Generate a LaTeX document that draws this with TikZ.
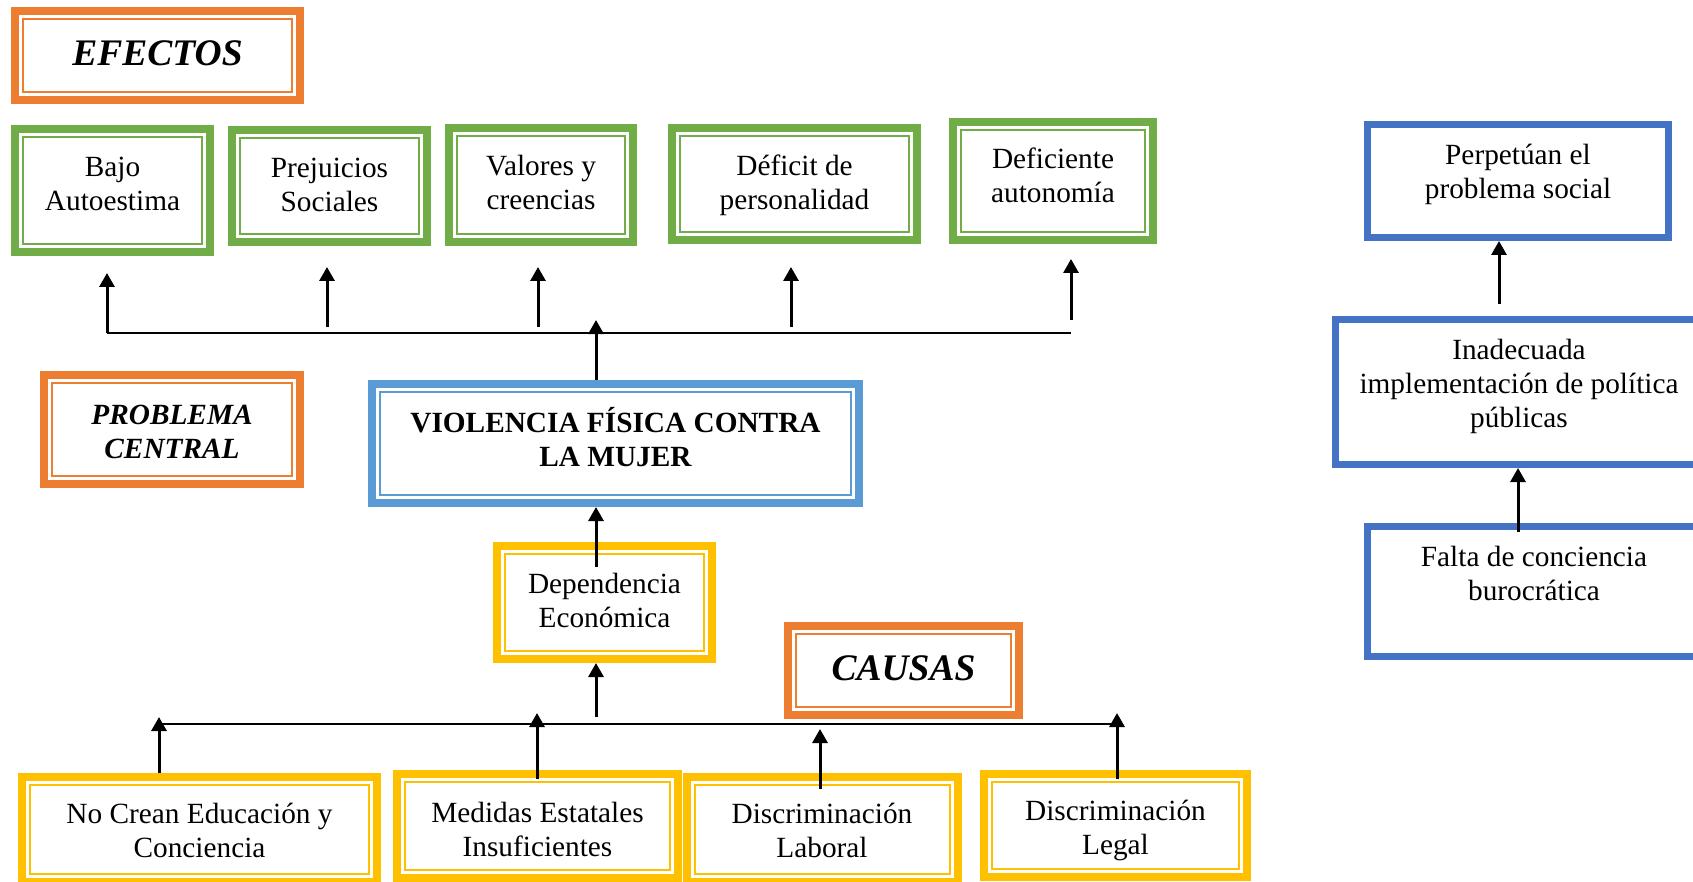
\documentclass[tikz,border=0pt]{standalone}
\usepackage{fontspec}
\setmainfont{Liberation Serif}
\usetikzlibrary{arrows.meta}
\definecolor{cOr}{HTML}{ED7D31}
\definecolor{cGr}{HTML}{70AD47}
\definecolor{cBl}{HTML}{5B9BD5}
\definecolor{cYe}{HTML}{FFC000}
\definecolor{cBd}{HTML}{4472C4}
\newcommand{\mybox}[6]{%
  \node[draw=#6, line width=8pt, outer sep=4pt, inner sep=0pt,
        minimum width={(#4-#2-8)*1pt}, minimum height={(#5-#3-8)*1pt}]
        (#1) at ({(#2+#4)/2},{(#3+#5)/2}) {};
  \draw[#6, line width=2pt] ([shift={(11.7pt,-11.7pt)}]#1.north west)
        rectangle ([shift={(-11.7pt,11.7pt)}]#1.south east);
}
\newcommand{\myplainbox}[6]{%
  \node[draw=#6, line width=7pt, outer sep=3.5pt, inner sep=0pt,
        minimum width={(#4-#2-7)*1pt}, minimum height={(#5-#3-7)*1pt}]
        (#1) at ({(#2+#4)/2},{(#3+#5)/2}) {};
}
\begin{document}
\begin{tikzpicture}[x=1pt,y=-1pt,
  txt/.style={font=\fontsize{29.3}{34}\selectfont, align=center, inner sep=0pt, yshift=-1.5pt},
  hd/.style={font=\fontsize{37.5}{42}\selectfont\bfseries\itshape, inner sep=0pt, yshift=-1pt},
  arr/.style={line width=3pt, -{Triangle[length=14pt,width=15pt]}},
  hl/.style={line width=2.3pt}]
\useasboundingbox (0,0) rectangle (1693,882);
\clip (0,0) rectangle (1693,882);
% ---------- boxes ----------
\mybox{efe}{11}{7}{304}{104}{cOr}
\mybox{bajo}{11}{125}{214}{256}{cGr}
\mybox{prej}{228}{126}{431}{246}{cGr}
\mybox{valo}{445}{124}{637}{246}{cGr}
\mybox{defi}{668}{124}{921}{244}{cGr}
\mybox{auto}{949}{118}{1157}{244}{cGr}
\mybox{prob}{40}{371}{304}{488}{cOr}
\mybox{viol}{368}{380}{863}{507}{cBl}
\mybox{dep}{493}{542}{716}{663}{cYe}
\mybox{cau}{784}{622}{1023}{719}{cOr}
\mybox{nocr}{18}{773}{381}{886}{cYe}
\mybox{med}{393}{770}{682}{882}{cYe}
\mybox{lab}{683}{773}{962}{886}{cYe}
\mybox{leg}{980}{770}{1251}{881}{cYe}
\myplainbox{perp}{1364}{121}{1672}{241}{cBd}
\myplainbox{inad}{1332}{316}{1706}{468}{cBd}
\myplainbox{falta}{1364}{523}{1704}{660}{cBd}
% ---------- texts ----------
\node[hd] (tefe) at (157.5,56.6) {\strut EFECTOS};
\node[hd] (tcau) at (903.5,670.6) {\strut CAUSAS};
\node[txt] (tbajo) at (112.5,185.2) {\strut Bajo\\\strut Autoestima};
\node[txt] (tprej) at (329.5,186) {\strut Prejuicios\\\strut Sociales};
\node[txt] (tvalo) at (541,184) {\strut Valores y\\\strut creencias};
\node[txt] (tdefi) at (794.5,184) {\strut Déficit de\\\strut personalidad};
\node[txt] (tauto) at (1053,177) {\strut Deficiente\\\strut autonomía};
\node[txt, font=\fontsize{29.3}{34}\selectfont\bfseries\itshape] (tprob) at (172,433) {\strut PROBLEMA\\\strut CENTRAL};
\node[txt, font=\fontsize{29.3}{34}\selectfont\bfseries] (tviol) at (615.5,441) {\strut VIOLENCIA FÍSICA CONTRA\\\strut LA MUJER};
\node[txt] (tdep) at (604.5,602) {\strut Dependencia\\\strut Económica};
\node[txt] (tnocr) at (199.5,832) {\strut No Crean Educación y\\\strut Conciencia};
\node[txt] (tmed) at (537.5,831) {\strut Medidas Estatales\\\strut Insuficientes};
\node[txt] (tlab) at (822,832) {\strut Discriminación\\\strut Laboral};
\node[txt] (tleg) at (1115.5,829) {\strut Discriminación\\\strut Legal};
\node[txt] (tperp) at (1518,173) {\strut Perpetúan el\\\strut problema social};
\node[txt] (tinad) at (1519,385) {\strut Inadecuada\\\strut implementación de política\\\strut públicas};
\node[txt] (tfalta) at (1534,575) {\strut Falta de conciencia\\\strut burocrática};
% ---------- effects connectors ----------
\coordinate (hL) at (107,333);
\coordinate (hR) at (1071,333);
\coordinate (sPrej) at (327,327);  \coordinate (ePrej) at (327,267);
\coordinate (sValo) at (538,327);  \coordinate (eValo) at (538,267);
\coordinate (sDefi) at (791,327);  \coordinate (eDefi) at (791,267);
\coordinate (sAuto) at (1071,320); \coordinate (eAuto) at (1071,259);
\coordinate (eBajo) at (107,273);
\coordinate (eCen) at (596,320);
\draw[hl] (hL) -- (hR);
\draw[arr] (hL) -- (eBajo);
\draw[arr] (sPrej) -- (ePrej);
\draw[arr] (sValo) -- (eValo);
\draw[arr] (sDefi) -- (eDefi);
\draw[arr] (sAuto) -- (eAuto);
\draw[arr] (eCen |- viol.north) -- (eCen);
% ---------- causes connectors ----------
\coordinate (cL) at (159,724);
\coordinate (cR) at (1117,724);
\draw[hl] (cL) -- (cR);
\coordinate (eNocr) at (159,717);
\coordinate (sMed) at (537,779);  \coordinate (eMed) at (537,713);
\coordinate (sLab) at (820,789);  \coordinate (eLab) at (820,729);
\coordinate (sLeg) at (1117,779); \coordinate (eLeg) at (1117,713);
\coordinate (sDep) at (596,717);
\coordinate (sViol) at (596,567);
\draw[arr] (eNocr |- nocr.north) -- (eNocr);
\draw[arr] (sMed) -- (eMed);
\draw[arr] (sLab) -- (eLab);
\draw[arr] (sLeg) -- (eLeg);
\draw[arr] (sDep) -- (sDep |- dep.south);
\draw[arr] (sViol) -- (sViol |- viol.south);
% ---------- right column ----------
\coordinate (sPerp) at (1499,304);
\coordinate (sInad) at (1518,532);
\draw[arr] (sPerp) -- (sPerp |- perp.south);
\draw[arr] (sInad) -- (sInad |- inad.south);
\end{tikzpicture}
\end{document}
